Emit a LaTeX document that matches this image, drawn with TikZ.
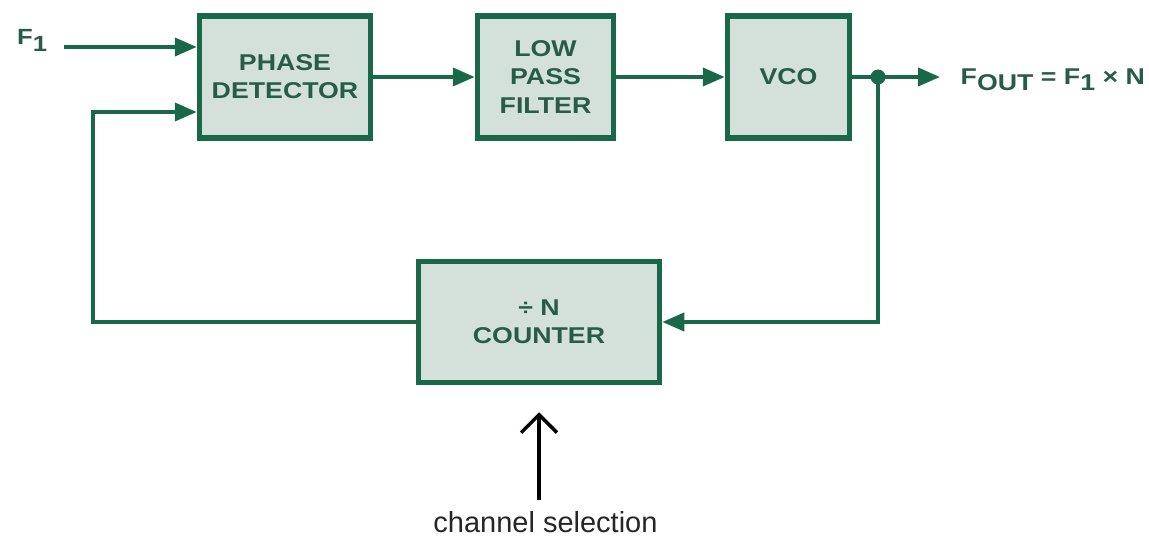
\documentclass[tikz,border=0pt]{standalone}
\usepackage{fontspec}
\setmainfont{Liberation Sans}
\newfontfamily\blockfont[FakeStretch=1.17]{Liberation Sans}
\usetikzlibrary{positioning, arrows.meta}
\definecolor{pllgreen}{RGB}{26,104,74}
\definecolor{pllfill}{RGB}{212,225,219}
\definecolor{plltext}{RGB}{38,92,72}
\newcommand{\lowsub}[1]{\raisebox{-0.45ex}{#1}}

\begin{document}
\begin{tikzpicture}[x=0.2mm, y=0.2mm, every node/.style={font=\blockfont\bfseries\fontsize{13}{16}\selectfont}]
  % Styles
  \tikzset{
    block/.style = {draw=pllgreen, line width=1.1mm, fill=pllfill, text=plltext, align=center, minimum height=24.4mm, inner sep=0pt},
    link/.style = {-{Triangle[length=4.4mm, width=3.6mm]}, draw=pllgreen, line width=0.8mm},
    wire/.style = {draw=pllgreen, line width=0.8mm},
    junction/.style = {circle, fill=pllgreen, minimum size=3mm, inner sep=0pt},
    sig/.style = {text=plltext},
    selnote/.style = {font=\normalfont\fontsize{16.5}{19}\selectfont, text=black!85},
    selarrow/.style = {-{Straight Barb[length=3.6mm, width=7.2mm]}, draw=black, line width=0.7mm}
  }
  \useasboundingbox (0,0) rectangle (1149,539);

  % Blocks
  \node[block, minimum width=34.2mm] (pd) at (285,462) {PHASE\\DETECTOR};
  \node[block, minimum width=27.2mm] (lpf) at (545.5,462) {LOW\\PASS\\FILTER};
  \node[block, minimum width=24.4mm] (vco) at (788.5,462) {VCO};
  \node[block, minimum width=48.2mm, minimum height=24.2mm] (cnt) at (539,217) {÷ N\\COUNTER};

  % Signals
  \node[sig, font=\blockfont\bfseries\fontsize{12.5}{14}\selectfont, anchor=base west] (f1) at (11,494) {F\raisebox{-0.6ex}{1}};
  \node[sig, anchor=base west] (fout) at (954.5,454) {F\lowsub{OUT} = F\lowsub{1} × N};
  \node[selnote, anchor=base] (chsel) at (545.5,7) {channel selection};

  \coordinate (in1) at ([yshift=6mm]pd.west);
  \coordinate (in2) at ([yshift=-7mm]pd.west);
  \coordinate (fbl) at (93,217);
  \node[junction] (dot) at (878,462) {};

  % Forward path
  \draw[link, shorten <=2.2mm] (f1.east |- in1) -- (in1);
  \draw[link] (pd) -- (lpf);
  \draw[link] (lpf) -- (vco);
  \draw[wire] (vco) -- (dot.center);
  \draw[link, shorten >=2.9mm] (dot.center) -- (dot.center -| fout.west);

  % Feedback
  \draw[link] (dot.center) |- (cnt.east);
  \draw[link] (cnt.west) -- (fbl) |- (in2);

  % Channel selection
  \draw[selarrow, shorten <=0.9mm, shorten >=5.4mm] (chsel.north -| cnt.south) -- (cnt.south);
\end{tikzpicture}
\end{document}
